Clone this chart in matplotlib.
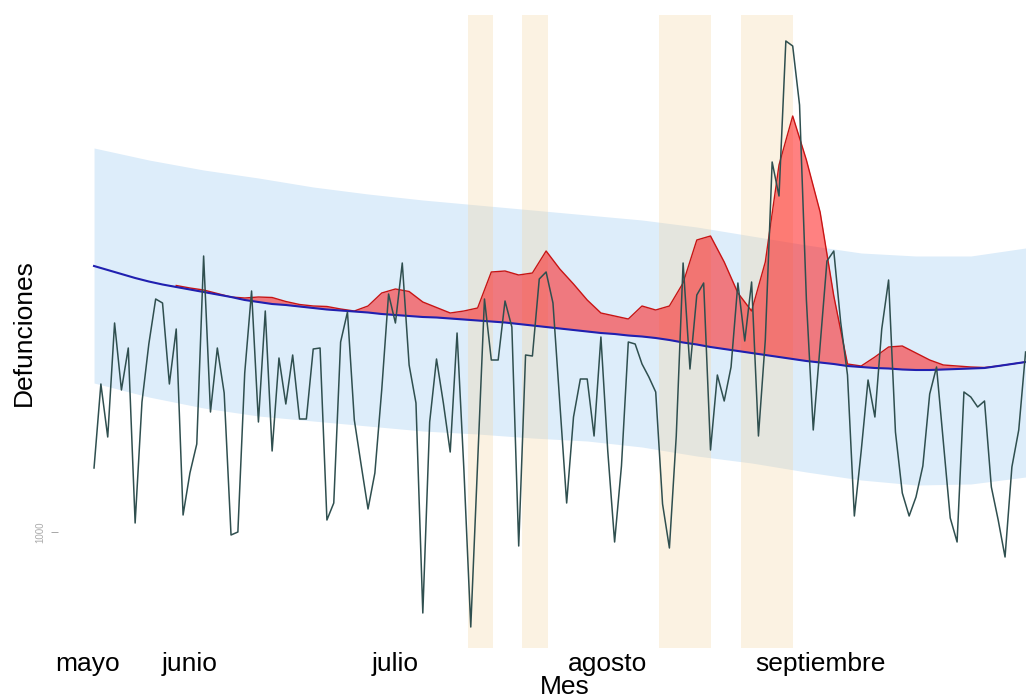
import matplotlib.pyplot as plt
import numpy as np
import pandas as pd

plt.rcParams['font.family'] = ['Liberation Sans', 'DejaVu Sans']

# -----------------------------
# Defunciones diarias
# -----------------------------
inicio = '2020-05-18'
defunciones = [
    1064, 1148, 1095, 1209, 1142, 1184, 1009, 1130, 1188, 1233,
    1229, 1148, 1203, 1017, 1059, 1088, 1276, 1120, 1184, 1139,
    997, 1000, 1159, 1241, 1110, 1221, 1081, 1174, 1128, 1177,
    1113, 1113, 1183, 1184, 1012, 1029, 1190, 1220, 1112, 1067,
    1023, 1059, 1142, 1238, 1209, 1269, 1167, 1129, 919, 1110,
    1173, 1129, 1080, 1199, 1062, 905, 1069, 1233, 1172, 1172,
    1231, 1205, 986, 1177, 1176, 1253, 1260, 1229, 1129, 1029,
    1115, 1153, 1153, 1096, 1195, 1081, 990, 1066, 1190, 1188,
    1168, 1155, 1140, 1028, 984, 1096, 1269, 1163, 1237, 1249,
    1082, 1157, 1131, 1165, 1249, 1191, 1250, 1096, 1192, 1370,
    1336, 1491, 1486, 1427, 1232, 1102, 1187, 1271, 1281, 1210,
    1157, 1016, 1081, 1152, 1115, 1203, 1252, 1100, 1039, 1016,
    1035, 1066, 1138, 1165, 1089, 1014, 990, 1140, 1135, 1125,
    1131, 1045, 1012, 975, 1065, 1102, 1180,
]
fechas = pd.date_range(inicio, periods=len(defunciones), freq='D')

# -----------------------------
# Esperado y suavizado, cada 2 dias
# -----------------------------
esperado = [
    1266, 1262, 1258, 1254, 1250.5, 1247.5, 1245, 1242.5, 1240, 1237.5,
    1235, 1232, 1230, 1228, 1227, 1225.5, 1224, 1222.5, 1221.5, 1220.5,
    1219.5, 1218, 1217, 1216, 1215, 1214.5, 1213.5, 1212.5, 1211.5, 1210.5,
    1209.5, 1208, 1206.5, 1205, 1203.5, 1202, 1200.5, 1199, 1198, 1196.5,
    1195.5, 1194, 1192, 1189.5, 1187.5, 1185, 1183, 1181, 1179, 1177,
    1175, 1173, 1171, 1169.5, 1168, 1166, 1165, 1164, 1163.5, 1162.5,
    1162, 1162, 1162.5, 1163, 1163.5, 1164, 1166, 1168, 1170,
]
suavizado = [
    1262, 1259, 1255, 1252, 1249, 1247, 1246.5, 1244, 1242, 1238.5,
    1235, 1234, 1235, 1234.5, 1230.5, 1227.5, 1226, 1225.5, 1223, 1221,
    1226, 1239, 1243, 1240.5, 1230, 1224.5, 1219, 1221, 1224, 1260,
    1261, 1257, 1259, 1281, 1263, 1248, 1232, 1219, 1216, 1213,
    1226, 1222, 1226, 1249, 1292, 1296, 1270, 1239, 1221, 1270,
    1367, 1416, 1372, 1320, 1236, 1168, 1166, 1175, 1185, 1186,
    1179, 1172, 1167, 1166, 1165, 1164.5, 1166, 1168, 1170,
]
fechas_2d = fechas[::2]

# -----------------------------
# Intervalo de prediccion, cada 8 dias
# -----------------------------
banda_sup = [1384, 1372, 1362, 1354, 1345, 1338, 1332, 1327, 1322,
             1317, 1312, 1305, 1296, 1287, 1279, 1276, 1276, 1284]
banda_inf = [1149, 1135, 1124, 1116, 1111, 1106, 1101, 1098, 1094,
             1091, 1085, 1076, 1069, 1060, 1052, 1047, 1048, 1055]
fechas_8d = fechas[::8]

# periodos marcados
periodos = [
    ('2020-07-11 15:00', '2020-07-15 07:00'),
    ('2020-07-19 11:00', '2020-07-23 05:00'),
    ('2020-08-08 13:00', '2020-08-16 02:00'),
    ('2020-08-20 10:00', '2020-08-28 02:00'),
]

meses = ['2020-05-17', '2020-06-01', '2020-07-01', '2020-08-01', '2020-09-01']
etiquetas_mes = ['mayo', 'junio', 'julio', 'agosto', 'septiembre']

# -----------------------------
# Figura
# -----------------------------
fig = plt.figure(figsize=(10.26, 7), dpi=100)
ax = fig.add_axes([58 / 1026, 52 / 700, 968 / 1026, 633 / 700])

ax.fill_between(fechas_8d, banda_inf, banda_sup, color='#ddedfa', lw=0, zorder=1)

for a, b in periodos:
    ax.axvspan(pd.Timestamp(a), pd.Timestamp(b), color='#f5d5a0', alpha=0.3, lw=0, zorder=2)

esp = np.array(esperado)
suav = np.array(suavizado)
ax.fill_between(fechas_2d, esp, suav, where=suav >= esp, interpolate=True,
                color='#ff1a1a', alpha=0.55, lw=0, zorder=3)
ax.plot(fechas_2d, np.where(suav >= esp, suav, np.nan), color='#c81414', lw=1.0, zorder=4)
ax.plot(fechas_2d, esp, color='#2020b0', lw=1.5, zorder=5)

ax.plot(fechas, defunciones, color='#2f4f4f', lw=1.1, zorder=6)

t0 = pd.Timestamp(inicio)
ax.set_xlim(t0 - pd.Timedelta(days=5.26), t0 + pd.Timedelta(days=136.06))
ax.set_ylim(884, 1517)

ax.set_xticks(pd.to_datetime(meses))
ax.set_xticklabels(etiquetas_mes, fontsize=19)
ax.tick_params(axis='x', length=0, pad=3)

ax.set_yticks([1000])
ax.set_yticklabels(['1000'], rotation=90, va='center', fontsize=7, color='#aaaaaa')
ax.tick_params(axis='y', length=5, width=0.6, color='#999999', pad=4)

for s in ax.spines.values():
    s.set_visible(False)

fig.text(24 / 1026, 1 - 333 / 700, 'Defunciones', rotation=90,
         ha='center', va='center', fontsize=19)
fig.text(565 / 1026, 1 - 694 / 700, 'Mes', ha='center', va='baseline', fontsize=19)

fig.savefig('out.png', dpi=100, facecolor='white')
